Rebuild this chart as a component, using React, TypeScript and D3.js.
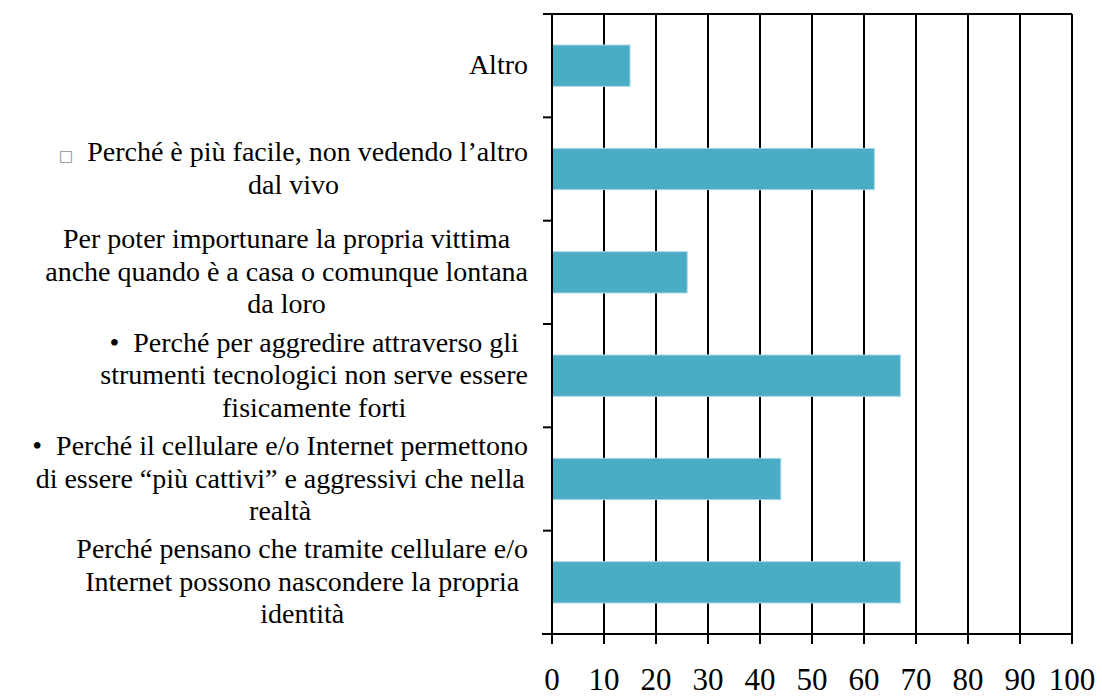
import React, { useMemo } from 'react';
import * as d3 from 'd3';

// categories, top to bottom (each entry = wrapped lines of the label)
const categories: string[][] = [
  ['Altro'],
  ['\u25A1\u00A0\u00A0Perché è più facile, non vedendo l’altro', 'dal vivo'],
  ['Per poter importunare la propria vittima', 'anche quando è a casa o comunque lontana', 'da loro'],
  ['•\u00A0\u00A0Perché per aggredire attraverso gli', 'strumenti tecnologici non serve essere', 'fisicamente forti'],
  ['•\u00A0\u00A0Perché il cellulare e/o Internet permettono', 'di essere “più cattivi” e aggressivi che nella', 'realtà'],
  ['Perché pensano che tramite cellulare e/o', 'Internet possono nascondere la propria', 'identità'],
];
const values = [15, 62, 26, 67, 44, 67];
const xTicks = [0, 10, 20, 30, 40, 50, 60, 70, 80, 90, 100];

const WIDTH = 1102;
const HEIGHT = 697;
const SERIF = '"Liberation Serif", "Times New Roman", Tinos, FreeSerif';
const LABEL_SIZE = 28;
const BOX_SIZE = 15;

const left = 552, right = 1072, top = 14, bottom = 634;
const labelRight = 528;
const lineHeight = 32.6;

const App = () => {
  const x = d3.scaleLinear().domain([0, 100]).range([left, right]);
  const y = d3.scaleBand<number>()
    .domain(d3.range(categories.length))
    .range([top, bottom])
    .paddingInner(0.6)
    .paddingOuter(0.3);
  const bounds = d3.range(categories.length + 1).map(i => top + i * y.step());

  // measure label lines so each label is a centred block right-aligned to the axis
  const widths = useMemo(() => {
    const ctx = document.createElement('canvas').getContext('2d')!;
    const measure = (line: string) => {
      if (line.startsWith('\u25A1')) {
        ctx.font = `${BOX_SIZE}px "DejaVu Sans"`;
        const w0 = ctx.measureText('\u25A1').width;
        ctx.font = `${LABEL_SIZE}px ${SERIF}`;
        return w0 + ctx.measureText(line.slice(1)).width;
      }
      ctx.font = `${LABEL_SIZE}px ${SERIF}`;
      return ctx.measureText(line).width;
    };
    return categories.map(lines => lines.map(measure));
  }, []);

  return (
    <svg
      width={WIDTH}
      height={HEIGHT}
      style={{ position: 'absolute', left: 0, top: 0, background: '#fff', fontFamily: SERIF }}
    >
      <style>{`.lbl { font-family: ${SERIF}; }`}</style>

      {/* vertical gridlines */}
      {xTicks.filter(t => t > 0).map(t => (
        <line key={`g${t}`} x1={x(t)} x2={x(t)} y1={top} y2={bottom} stroke="#000" strokeWidth={2} />
      ))}

      {/* bars */}
      {values.map((v, i) => (
        <rect
          key={`b${i}`}
          x={x(0)}
          y={y(i)}
          width={x(v) - x(0)}
          height={y.bandwidth()}
          fill="#4BACC6"
          stroke="#a9d9e6"
          strokeWidth={1}
        />
      ))}

      {/* top line */}
      <line x1={left - 9} x2={right} y1={top} y2={top} stroke="#000" strokeWidth={2} />

      {/* category axis */}
      <line x1={left} x2={left} y1={top - 1} y2={bottom + 10} stroke="#000" strokeWidth={2} />
      {bounds.map(b => (
        <line key={`t${b}`} x1={left - 9} x2={left} y1={b} y2={b} stroke="#000" strokeWidth={2} />
      ))}

      {/* value axis */}
      <line x1={left - 10} x2={right + 1} y1={bottom} y2={bottom} stroke="#000" strokeWidth={2} />
      {xTicks.map(t => (
        <g key={`x${t}`}>
          <line x1={x(t)} x2={x(t)} y1={bottom} y2={bottom + 10} stroke="#000" strokeWidth={2} />
          <text
            className="lbl"
            x={x(t)}
            y={690}
            textAnchor="middle"
            fontFamily={SERIF}
            fontSize={31}
            fill="#000"
          >
            {`${t}`}
          </text>
        </g>
      ))}

      {/* category labels */}
      {categories.map((lines, i) => {
        const cy = (y(i) as number) + y.bandwidth() / 2;
        const maxW = Math.max(...widths[i]);
        return (
          <g key={`c${i}`}>
            {lines.map((line, j) => {
              const ly = cy + 8.5 + (j - (lines.length - 1) / 2) * lineHeight;
              const lx = labelRight - (maxW + widths[i][j]) / 2;
              const boxed = line.startsWith('\u25A1');
              return (
                <text
                  key={j}
                  className="lbl"
                  x={lx}
                  y={ly}
                  fontFamily={SERIF}
                  fontSize={LABEL_SIZE}
                  fill="#000"
                >
                  {boxed ? (
                    <>
                      <tspan fontFamily='"DejaVu Sans"' fontSize={BOX_SIZE} fill="#8c8c8c">
                        {'\u25A1'}
                      </tspan>
                      <tspan>{line.slice(1)}</tspan>
                    </>
                  ) : line}
                </text>
              );
            })}
          </g>
        );
      })}
    </svg>
  );
};

export default App;
